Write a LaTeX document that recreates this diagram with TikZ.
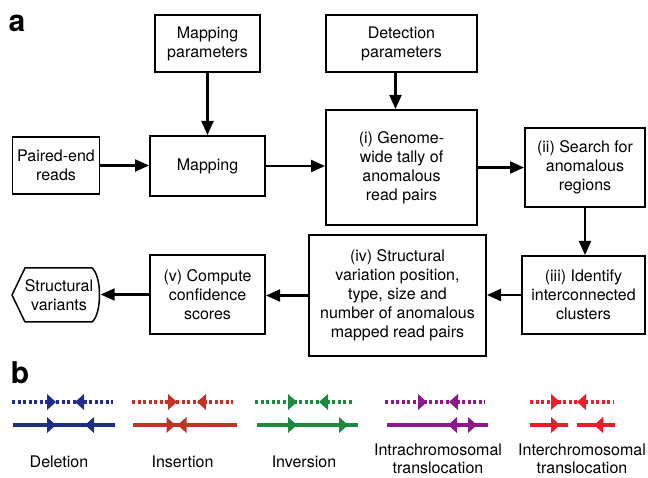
\documentclass[tikz,border=0pt]{standalone}
\usepackage{fontspec}
\setmainfont{TeX Gyre Heros}
\usetikzlibrary{arrows.meta}
\definecolor{cdel}{RGB}{31,45,134}
\definecolor{cins}{RGB}{192,52,40}
\definecolor{cinv}{RGB}{27,138,62}
\definecolor{cintra}{RGB}{142,26,138}
\definecolor{cinter}{RGB}{232,30,42}
\begin{document}
\begin{tikzpicture}[x=1pt,y=-1pt,
  txt/.style={font=\fontsize{16}{19}\selectfont, align=center, inner sep=0pt},
  thinbox/.style={txt, draw, line width=1.4pt},
  procbox/.style={txt, draw, line width=2pt},
  flow/.style={line width=2.1pt, -{Triangle[length=14pt,width=12pt]}},
  dotl/.style={line width=3.4pt, dash pattern=on 3pt off 2.5pt},
  soll/.style={line width=3.2pt},
  panel/.style={font=\fontsize{30}{32}\selectfont\bfseries, inner sep=0pt},
  rhead/.pic={\fill (0,0) -- (-9,-8) -- (-9,8) -- cycle;},
  lhead/.pic={\fill (0,0) -- (9,-8) -- (9,8) -- cycle;}
]
\useasboundingbox (0,0) rectangle (648,478);

% panel labels
\node[panel] (pa) at (17,23) {a};
\node[panel] (pb) at (20,373) {b};

% boxes
\node[thinbox, minimum width=105, minimum height=57] (mp) at (207.5,43.5) {Mapping\\parameters};
\node[thinbox, minimum width=151, minimum height=57] (dp) at (401.5,43.5) {Detection\\parameters};
\node[thinbox, minimum width=87.5, minimum height=57] (per) at (56,165.5) {Paired-end\\reads};
\node[procbox, minimum width=115, minimum height=60] (map) at (207.5,166) {Mapping};
\node[procbox, minimum width=151, minimum height=115] (tally) at (401.5,167.5) {(i) Genome-\\wide tally of\\anomalous\\read pairs};
\node[procbox, minimum width=120, minimum height=79] (search) at (585,167.5) {(ii) Search for\\anomalous\\regions};
\node[procbox, minimum width=123, minimum height=78] (ident) at (583.5,295) {(iii) Identify\\interconnected\\clusters};
\node[procbox, minimum width=177, minimum height=121] (struct) at (397.5,295.5) {(iv) Structural\\variation position,\\type, size and\\number of anomalous\\mapped read pairs};
\node[procbox, minimum width=115, minimum height=79] (conf) at (207.5,294.5) {(v) Compute\\confidence\\scores};
\node[txt, minimum width=83, minimum height=54] (sv) at (59,295) {Structural\\variants};
\draw[line width=1.5pt, line join=round] (12,295) -- (25,268) -- (92,268)
  .. controls (102,276) and (102,314) .. (92,322) -- (25,322) -- cycle;

% connectors
\draw[flow] (mp.south) -- (map.north);
\draw[flow] ([xshift=-6pt]dp.south) -- ([xshift=-6pt]tally.north);
\draw[flow] (per.east) -- (per.east -| map.west);
\draw[flow] (map.east) -- (map.east -| tally.west);
\draw[flow] (tally.east) -- (tally.east -| search.west);
\draw[flow] (search.south) -- (search.south |- ident.north);
\draw[flow] (ident.west) -- (ident.west -| struct.east);
\draw[flow] (struct.west) -- (struct.west -| conf.east);
\draw[flow] (conf.west) -- (conf.west -| sv.east);

% part b
% Deletion
\begin{scope}[color=cdel, fill=cdel]
\draw[dotl] (12,402) -- (113,402);
\draw[soll] (13,425) -- (115,425);
\pic at (56,402) {rhead}; \pic at (75,402) {lhead};
\pic at (56,425) {rhead}; \pic at (85,425) {lhead};
\end{scope}
% Insertion
\begin{scope}[color=cins, fill=cins]
\draw[dotl] (132,402) -- (233,402);
\draw[soll] (133,425) -- (237,425);
\pic at (177,402) {rhead}; \pic at (197,402) {lhead};
\pic at (175.5,425) {rhead}; \pic at (177.5,425) {lhead};
\end{scope}
% Inversion
\begin{scope}[color=cinv, fill=cinv]
\draw[dotl] (255,402) -- (353,402);
\draw[soll] (257,425) -- (358,425);
\pic at (297,402) {rhead}; \pic at (319,402) {lhead};
\pic at (297,425) {rhead}; \pic at (348,425) {rhead};
\end{scope}
% Intrachromosomal
\begin{scope}[color=cintra, fill=cintra]
\draw[dotl] (385,402) -- (485,402);
\draw[soll] (387,425) -- (488,425);
\pic at (427,402) {rhead}; \pic at (449,402) {lhead};
\pic at (448,425) {lhead}; \pic at (477,425) {rhead};
\end{scope}
% Interchromosomal
\begin{scope}[color=cinter, fill=cinter]
\draw[dotl] (530,402) -- (613,402);
\draw[soll] (530,425) -- (568,425);
\draw[soll] (577,425) -- (615,425);
\pic at (560,402) {rhead}; \pic at (577,402) {lhead};
\pic at (560,425) {rhead}; \pic at (594,425) {lhead};
\end{scope}

\node[txt] (ldel) at (59,462) {Deletion};
\node[txt] (lins) at (182.5,462) {Insertion};
\node[txt] (linv) at (304,462) {Inversion};
\node[txt, font=\fontsize{16}{17.5}\selectfont] (lintra) at (438,459) {Intrachromosomal\\translocation};
\node[txt, font=\fontsize{16}{17.5}\selectfont] (linter) at (582,459) {Interchromosomal\\translocation};
\end{tikzpicture}
\end{document}
